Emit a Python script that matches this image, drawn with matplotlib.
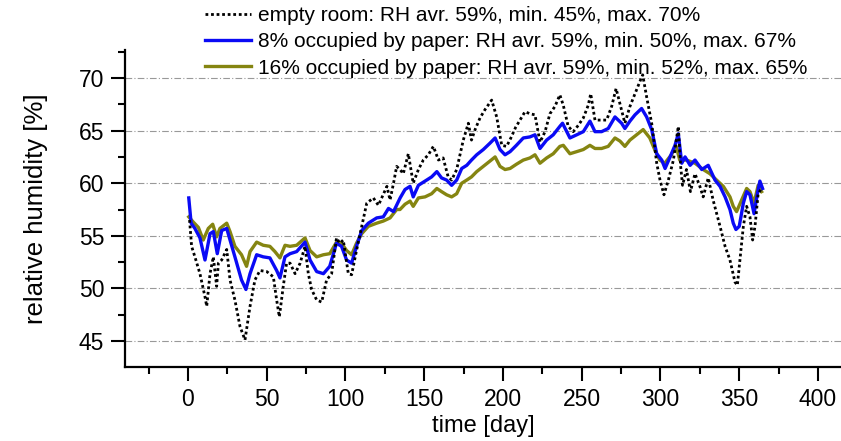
import matplotlib
matplotlib.use("Agg")
import matplotlib.pyplot as plt
from matplotlib.ticker import MultipleLocator

plt.rcParams["font.family"] = ["Liberation Sans", "DejaVu Sans"]

# empty room
day_empty = [1, 2.3, 4.4, 7.6, 10.8, 11.9, 14, 16.1, 18.2, 19.3, 21.4, 24.6, 26.7, 29.8, 33, 36.2,
             39.4, 42.5, 45.7, 50, 54.2, 56.3, 58, 60.5, 62.6, 64.8, 68, 71.2, 74.3, 76.4, 78.5,
             81.7, 84.9, 88, 91.2, 94.3, 96.4, 98.6, 101.8, 103.9, 107, 110.3, 113.5, 117.7,
             120.9, 123, 126.3, 128.3, 130.5, 132.5, 134.6, 136.7, 139.9, 143, 146.3, 149.4,
             152.6, 155.8, 159, 162, 165.2, 167.4, 170.6, 174.8, 178, 180, 182.3, 185.4, 188.6,
             192.8, 196, 199.2, 202.3, 205, 208, 210.8, 214, 217.1, 220.3, 223.5, 226.7, 229.8,
             233, 236.1, 238.3, 241.4, 244.6, 247.8, 251, 254.1, 255.7, 258.4, 261.6, 265.8, 269,
             271.8, 274.2, 277.4, 280.6, 283.8, 287, 288.7, 291.2, 294.4, 297.6, 299.7, 302.2,
             305, 308.2, 311.3, 312.8, 314, 316.5, 319, 321.9, 325, 327.1, 330.3, 333.4, 337.8,
             341, 344.1, 347.3, 348.8, 350.4, 352.6, 354.7, 356.8, 358.5, 360, 362, 364.2]
rh_empty = [56.5, 54.0, 53.0, 51.4, 49.2, 48.3, 51.4, 53.0, 50.2, 52.4, 52.7, 53.7, 50.8, 48.9, 46.4, 45.1,
            48.3, 50.8, 51.7, 51.6, 51.1, 48.9, 47.3, 50.2, 52.4, 52.4, 51.4, 52.4, 54.0, 51.4, 49.9,
            48.9, 48.7, 50.8, 51.4, 54.8, 54.3, 54.6, 51.4, 51.3, 53.6, 55.9, 58.1, 58.6,
            57.9, 58.6, 59.7, 58.4, 60.0, 61.6, 61.3, 60.9, 62.8, 60.0, 61.3, 62.2,
            62.7, 63.5, 62.2, 62.4, 60.6, 60.3, 61.3, 64.1, 65.7, 64.1, 65.1, 66.2, 67.0,
            67.9, 66.3, 63.6, 63.5, 64.3, 65.3, 66.0, 66.8, 66.6, 66.5, 63.9, 64.9, 66.6,
            67.3, 68.4, 67.4, 65.4, 64.9, 65.5, 66.2, 67.4, 68.5, 66.0, 66.0, 66.0, 67.3,
            69.0, 67.6, 65.7, 67.3, 68.5, 69.7, 70.3, 68.2, 65.7, 61.9, 60.3, 58.9,
            60.3, 62.2, 65.4, 61.6, 59.8, 61.3, 59.2, 60.9, 59.7, 58.7, 60.5, 58.4, 55.9,
            54.0, 52.7, 50.6, 50.3, 52.7, 55.9, 57.8, 56.8, 54.6, 55.9, 59.0, 59.5]

# 8% occupied by paper
day_8 = [0.5, 2, 4.4, 7.6, 10.8, 14, 16.1, 18.6, 21.4, 24.6, 26.7, 29.8, 34, 36.8, 39.4, 43.6, 47.8,
         52, 56.3, 58.4, 61.6, 64.8, 69, 74.3, 77.5, 81.7, 86, 90, 94.3, 97.5, 100.7, 103.9, 107,
         110.3, 114.5, 119.8, 124, 127.3, 130.5, 134.7, 137.8, 141, 143, 146.3, 150.5, 154.7, 158,
         161, 164.2, 167.4, 170.6, 173.8, 177, 180, 183.3, 187.5, 191.7, 195, 198.1, 201.3, 204.5,
         208.5, 212.9, 217.1, 220.3, 223.5, 227.7, 231.9, 236.1, 237.8, 242.5, 246.8, 251, 255.2,
         258.4, 262.6, 266.8, 271.1, 275.3, 277.4, 280.6, 283.8, 288, 291.2, 294.4, 297.6, 300.8,
         302.9, 306.1, 309.2, 311.3, 313.5, 315.6, 318.8, 321.9, 326.2, 330.3, 334.6, 337.8, 341,
         344.1, 346.2, 347.9, 350, 352.6, 354.7, 356.8, 359.4, 361.5, 363.1, 364.8]
rh_8 = [58.6, 56.2, 55.7, 54.8, 52.7, 55.2, 55.4, 53.3, 55.5, 55.7, 54.6, 53.0, 50.8, 49.9, 51.4, 53.2, 53.0,
        52.9, 51.7, 51.0, 53.0, 53.3, 53.5, 54.4, 52.7, 51.6, 51.4, 52.1, 54.3, 54.0, 52.7, 52.4, 54.0,
        55.5, 56.2, 56.7, 56.8, 57.6, 57.3, 58.6, 59.4, 59.7, 58.7, 59.8, 60.2, 60.6, 61.1,
        60.5, 60.3, 59.8, 60.3, 61.4, 61.7, 62.2, 62.7, 63.2, 63.8, 64.3, 63.2, 62.7, 63.0,
        63.6, 64.3, 64.4, 64.6, 63.3, 64.1, 64.6, 65.4, 65.7, 64.3, 64.6, 64.9, 65.9,
        64.9, 64.9, 65.2, 66.3, 65.7, 65.2, 65.9, 66.5, 67.1, 66.3, 65.1, 62.8, 62.2,
        61.4, 62.5, 63.6, 64.7, 61.9, 62.5, 61.7, 62.2, 61.3, 61.7, 60.3, 59.7, 58.7,
        57.5, 56.2, 55.6, 55.9, 58.1, 59.2, 58.9, 57.1, 59.0, 60.2, 59.5]

# 16% occupied by paper
day_16 = [0.5, 3.4, 6.6, 9.7, 12.9, 15.7, 18.2, 20.3, 24.6, 26.7, 29.8, 34, 37.2, 39.4, 43.6, 47.8, 52,
          55.2, 58.4, 61.6, 64.8, 69, 74.3, 77.5, 81.7, 86, 90, 94.3, 97.5, 100.7, 103.9, 107, 110.3,
          114.5, 119.8, 124, 128.3, 132.5, 134.6, 137.8, 141, 143, 146.3, 150.5, 154.7, 158, 161,
          164.2, 167.4, 170.6, 173.8, 177, 180, 183.3, 187.5, 191.7, 195, 198.1, 201.3, 204.5, 208.5,
          212.9, 217.1, 220.3, 223.5, 227.7, 231.9, 236.1, 238.3, 242.5, 246.8, 251, 255.2, 258.4,
          262.6, 266.8, 271.1, 274.3, 277.4, 280.6, 284.8, 289, 293.2, 296.3, 299.5, 302.7, 306.9,
          310, 312.2, 316.5, 321.9, 327.1, 331.4, 335.6, 339.9, 344.1, 346.2, 348.3, 351.5, 354.7,
          356.8, 359.4, 362, 364.2]
rh_16 = [56.8, 56.3, 55.8, 54.6, 55.7, 56.1, 54.9, 55.7, 56.2, 55.4, 54.0, 53.2, 52.1, 53.5, 54.4, 54.1, 54.0,
         53.5, 52.9, 54.1, 54.0, 54.1, 54.8, 53.6, 53.0, 53.2, 53.3, 54.4, 54.3, 53.6, 53.2, 54.3, 55.2,
         55.9, 56.2, 56.4, 56.7, 57.5, 57.5, 58.0, 58.3, 57.8, 58.6, 58.7, 59.0, 59.5, 59.2,
         58.9, 58.7, 59.0, 60.0, 60.3, 60.6, 61.1, 61.6, 62.1, 62.5, 61.6, 61.3, 61.4, 61.8,
         62.2, 62.4, 62.7, 61.9, 62.4, 62.8, 63.5, 63.6, 62.8, 63.0, 63.2, 63.6, 63.3,
         63.3, 63.5, 64.3, 64.0, 63.5, 64.1, 64.6, 65.1, 64.3, 63.2, 62.2, 61.9, 62.7,
         63.5, 62.2, 62.2, 61.9, 61.3, 60.9, 60.3, 59.7, 58.7, 57.8, 57.3, 58.4, 59.5,
         59.2, 58.1, 59.8, 59.2]

labels = ["empty room: RH avr. 59%, min. 45%, max. 70%",
          "8% occupied by paper: RH avr. 59%, min. 50%, max. 67%",
          "16% occupied by paper: RH avr. 59%, min. 52%, max. 65%"]

fig = plt.figure(figsize=(8.41, 4.41), dpi=100)
ax = fig.add_axes([0.1486, 0.1678, 0.8514, 0.7188])

l3, = ax.plot(day_16, rh_16, color="#858511", lw=2.4, label=labels[2])
l2, = ax.plot(day_8, rh_8, color="#0a0af5", lw=2.4, label=labels[1])
l1, = ax.plot(day_empty, rh_empty, color="black", lw=2.0, ls=(0, (1, 1)), label=labels[0])

ax.set_xlim(-40, 414.6)
ax.set_ylim(42.53, 72.66)
ax.yaxis.set_major_locator(MultipleLocator(5))
ax.yaxis.set_minor_locator(MultipleLocator(2.5))
ax.set_xticks(range(0, 401, 50))
ax.set_xticks([-25] + list(range(25, 401, 50)), minor=True)

ax.spines["top"].set_visible(False)
ax.spines["right"].set_visible(False)
ax.spines["left"].set_linewidth(1.6)
ax.spines["bottom"].set_linewidth(1.6)
ax.tick_params(which="major", direction="out", length=10, width=1.5, labelsize=16.5, pad=5)
ax.tick_params(which="minor", direction="out", length=5, width=1.5)

ax.yaxis.grid(True, which="major", color="#999999", lw=0.8, ls=(0, (6, 2, 1, 2)))
ax.set_axisbelow(True)

ax.set_xlabel("time [day]", fontsize=17, labelpad=3)
ax.set_ylabel("relative humidity [%]", fontsize=18.5, labelpad=22)

fig.legend(handles=[l1, l2, l3], loc="upper left", bbox_to_anchor=(205 / 841, 0.986),
           bbox_transform=fig.transFigure, frameon=False, fontsize=15, borderpad=0,
           borderaxespad=0, labelspacing=0.35, handlelength=2.2, handletextpad=0.35)

fig.savefig("out.png", dpi=100)
